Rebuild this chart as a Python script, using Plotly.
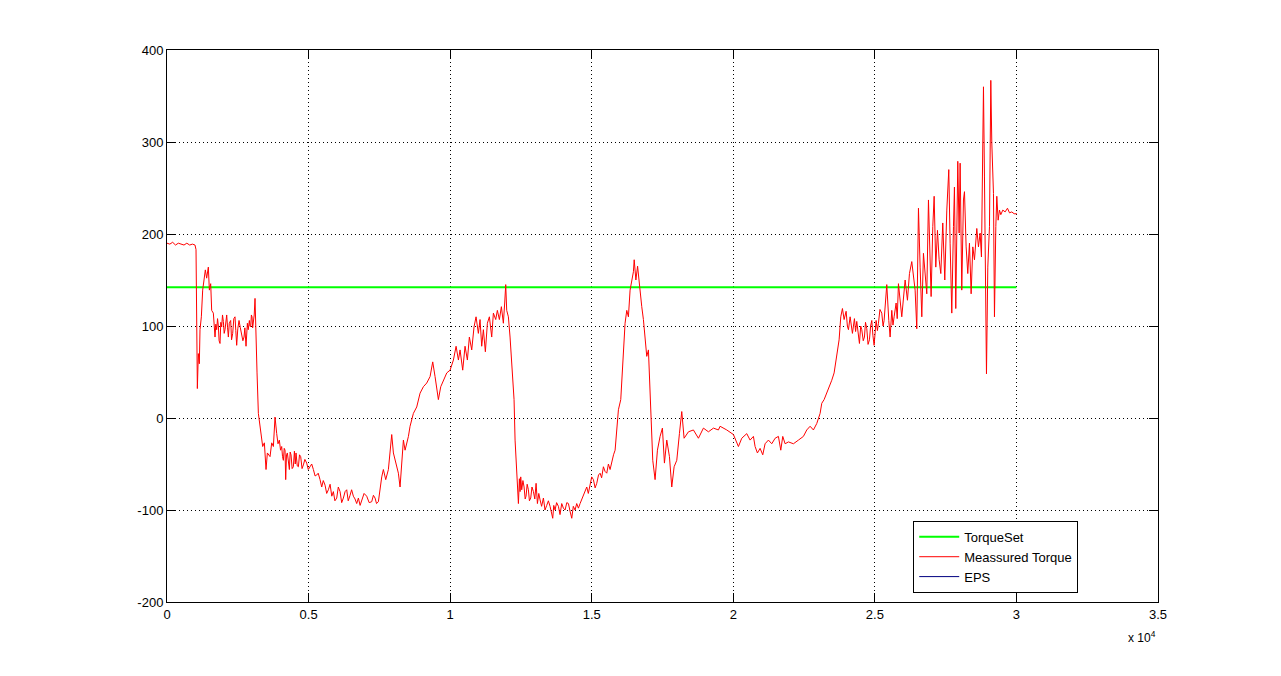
import plotly.graph_objects as go

# TorqueSet reference level
set_x = [0, 30000]
set_y = [142, 142]

start_x = [0, 100, 200, 300, 400, 500, 600, 700, 800, 900, 989, 1025,
           1048, 1072, 1107, 1142, 1166, 1213, 1260, 1307, 1354, 1401, 1460, 1496,
           1543, 1578, 1637, 1696, 1725, 1755, 1785, 1814, 1840, 1873, 1900, 1931,
           1960, 1990, 2020, 2049, 2080, 2108, 2140, 2167, 2200, 2249, 2280, 2320,
           2360, 2402, 2430, 2461, 2500, 2544, 2590, 2638, 2680, 2720, 2750, 2791,
           2815, 2838, 2870, 2909, 2930, 2956, 2980, 3003, 3025, 3050, 3080, 3109,
           3144, 3180, 3227]
start_y = [190, 189, 191, 188, 190, 189, 188, 190, 188, 189, 188, 183,
           88, 32, 70, 59, 96, 110, 139, 150, 161, 152, 164, 139,
           146, 117, 114, 88, 102, 96, 108, 100, 84, 81, 104, 99,
           112, 105, 92, 96, 110, 112, 98, 88, 103, 106, 85, 92,
           108, 110, 95, 79, 97, 106, 98, 92, 84, 88, 98, 78,
           95, 103, 96, 106, 100, 99, 112, 110, 98, 103, 112, 130,
           70, 49, 5]

dip1_x = [3285, 3380, 3439, 3497, 3545, 3639, 3698, 3757, 3815, 3845,
          3874, 3920, 3968, 4010, 4051, 4080, 4110, 4140, 4169, 4192,
          4220, 4251, 4290, 4322, 4350, 4380, 4420, 4463, 4500, 4530,
          4557, 4600, 4640, 4680, 4722, 4770, 4816, 4870, 4934, 4990,
          5052, 5110, 5170, 5230, 5287, 5340, 5405, 5464, 5520, 5582,
          5640, 5700, 5760, 5820, 5876, 5930, 5994, 6050, 6112, 6170,
          6229, 6290, 6347, 6400, 6465, 6520, 6582, 6640, 6700, 6759,
          6820, 6877, 6960, 7053, 7140, 7230, 7290, 7348, 7400, 7466]
dip1_y = [-9, -31, -27, -56, -38, -42, -27, -31, 1, -12,
          -17, -28, -24, -35, -31, -42, -46, -33, -35, -67,
          -40, -38, -50, -56, -37, -40, -55, -53, -36, -50,
          -38, -52, -53, -40, -42, -55, -51, -45, -49, -56,
          -53, -50, -56, -63, -62, -60, -67, -75, -68, -73,
          -82, -78, -72, -85, -80, -90, -87, -75, -80, -92,
          -87, -80, -78, -90, -84, -78, -85, -88, -93, -87,
          -95, -89, -82, -85, -92, -91, -84, -87, -93, -91]

rise1_x = [7525, 7584, 7642, 7725, 7819, 7878, 7937, 7996, 8090, 8172,
           8231, 8290, 8349, 8408, 8526, 8584, 8702, 8820, 8938, 9055,
           9173, 9291, 9385, 9467, 9585, 9668, 9762, 9880, 9998, 10115,
           10210, 10292, 10350, 10444, 10526, 10609, 10679, 10762, 10844, 10915,
           10997, 11056, 11115, 11174, 11244, 11315, 11386, 11468, 11527, 11610,
           11668, 11739, 11810, 11880, 11927, 11963, 11998, 12057, 12116, 12175,
           12234]
rise1_y = [-75, -64, -56, -67, -56, -38, -18, -38, -49, -60,
           -75, -46, -24, -35, -20, -9, 5, 12, 27, 34,
           38, 45, 61, 45, 20, 34, 41, 49, 52, 63,
           78, 63, 74, 52, 78, 63, 88, 74, 99, 110,
           92, 107, 78, 96, 72, 103, 110, 88, 114, 107,
           117, 107, 121, 103, 125, 145, 117, 110, 88, 63,
           34]

dip2_x = [12257, 12293, 12352, 12411, 12446, 12470, 12493, 12528, 12570, 12611,
          12650, 12681, 12720, 12764, 12800, 12846, 12890, 12941, 12990, 13035,
          13082, 13130, 13176, 13230, 13294, 13350, 13411, 13470, 13529, 13580,
          13623, 13660, 13706, 13760, 13824, 13880, 13941, 14000, 14059, 14120,
          14177, 14240, 14295, 14350, 14412, 14470, 14530, 14589, 14683, 14766,
          14825, 14880, 14942, 15000, 15060, 15120, 15178, 15240, 15296, 15350,
          15413, 15470, 15531, 15590, 15649, 15708, 15770, 15826, 15884, 15943,
          16026]
dip2_y = [20, -24, -53, -93, -66, -80, -64, -78, -68, -75,
          -88, -85, -72, -78, -90, -87, -75, -80, -88, -71,
          -93, -82, -89, -96, -87, -100, -95, -90, -96, -104,
          -109, -95, -100, -92, -96, -105, -93, -98, -100, -92,
          -93, -102, -109, -96, -100, -93, -98, -93, -85, -78,
          -75, -82, -71, -64, -67, -76, -71, -62, -60, -65,
          -53, -58, -60, -50, -56, -46, -40, -35, -9, 9,
          20]

peak2_x = [16060, 16119, 16178, 16238, 16296, 16355, 16414, 16473, 16500, 16560,
           16620, 16680, 16708, 16767, 16826, 16885, 16944, 17003, 17062]
peak2_y = [41, 74, 103, 117, 110, 139, 150, 159, 172, 150,
           165, 145, 139, 121, 107, 88, 67, 74, 23]

mid_x = [17085, 17156, 17238, 17321, 17415, 17497, 17568, 17651, 17745, 17827,
         17910, 18004, 18098, 18180, 18263, 18416, 18592, 18769, 18945, 19122,
         19299, 19475, 19534, 19769, 20005, 20122, 20181, 20299, 20476, 20593,
         20711, 20770, 20852, 20947, 21041, 21123, 21241, 21359, 21477, 21594,
         21677, 21747, 21830, 21948, 22124, 22301, 22477, 22595, 22713, 22830,
         22948, 23066]
mid_y = [20, -46, -67, -35, -20, -11, -49, -24, -42, -75,
         -53, -46, -17, 7, -22, -15, -13, -22, -11, -15,
         -11, -13, -9, -13, -18, -26, -31, -22, -17, -24,
         -20, -31, -38, -33, -40, -28, -24, -28, -22, -20,
         -35, -20, -28, -26, -28, -24, -20, -13, -9, -13,
         -6, 5]

rise3_x = [23125, 23208, 23302, 23396, 23478, 23561, 23655, 23737, 23796, 23855,
           23914, 23985, 24030, 24067, 24126, 24170, 24208, 24279, 24320, 24361,
           24410, 24456, 24500, 24538, 24590, 24632, 24670, 24715, 24760, 24809,
           24850, 24891, 24930, 24974, 25044, 25090, 25127, 25180, 25244, 25290,
           25327, 25421, 25492, 25539, 25598, 25640, 25680, 25751, 25790, 25833]
rise3_y = [16, 20, 27, 34, 41, 49, 67, 85, 110, 119,
           107, 116, 100, 96, 110, 98, 92, 108, 94, 105,
           88, 81, 100, 96, 84, 88, 104, 97, 80, 85,
           100, 106, 90, 79, 106, 95, 103, 118, 114, 100,
           106, 145, 106, 88, 117, 101, 110, 125, 108, 146]

osc_x = [25951, 26010, 26069, 26151, 26222, 26304, 26363, 26422, 26481, 26540,
         26599, 26658, 26716, 26775, 26834, 26893, 26952, 26987, 27046, 27094,
         27152, 27211, 27270, 27329, 27399, 27470, 27541, 27611, 27658, 27717,
         27776, 27811, 27858, 27929, 27976, 28012, 28070, 28129, 28165, 28224,
         28282, 28341, 28400, 28459, 28518, 28600, 28659, 28718, 28765, 28800,
         28836, 28871, 28918, 28942, 28989, 29048, 29095, 29130, 29189, 29224,
         29272, 29307, 29354, 29401, 29448, 29519, 29601, 29684, 29755, 29837,
         29919, 30013]
osc_y = [110, 135, 150, 128, 157, 170, 154, 139, 97, 228,
         164, 110, 179, 154, 135, 237, 172, 132, 208, 241,
         164, 204, 172, 157, 212, 150, 226, 270, 190, 114,
         208, 251, 119, 279, 201, 277, 139, 237, 246, 186,
         157, 190, 135, 186, 172, 206, 186, 201, 175, 280,
         360, 262, 114, 48, 164, 208, 367, 299, 244, 110,
         208, 241, 215, 226, 221, 226, 224, 228, 223, 224,
         222, 222]

torque_x = start_x + dip1_x + rise1_x + dip2_x + peak2_x + mid_x + rise3_x + osc_x
torque_y = start_y + dip1_y + rise1_y + dip2_y + peak2_y + mid_y + rise3_y + osc_y

x_ticks = [0, 5000, 10000, 15000, 20000, 25000, 30000, 35000]
x_tick_labels = ["0", "0.5", "1", "1.5", "2", "2.5", "3", "3.5"]
y_ticks = [-200, -100, 0, 100, 200, 300, 400]
y_tick_labels = ["-200", "-100", "0", "100", "200", "300", "400"]

font = dict(family="Liberation Sans, Arial, sans-serif", size=13, color="black")

fig = go.Figure()
fig.add_trace(go.Scatter(x=set_x, y=set_y, mode="lines", name="TorqueSet",
                         line=dict(color="#00ff00", width=2)))
fig.add_trace(go.Scatter(x=torque_x, y=torque_y, mode="lines", name="Meassured Torque",
                         line=dict(color="#ff0000", width=1)))
fig.add_trace(go.Scatter(x=[None], y=[None], mode="lines", name="EPS",
                         line=dict(color="#000080", width=1)))

axis_style = dict(
    showline=True, linecolor="black", linewidth=1, mirror="allticks",
    ticks="inside", ticklen=9, tickcolor="black",
    showgrid=True, gridcolor="black", gridwidth=1, griddash="1px,3px",
    zeroline=False, tickfont=font,
)

fig.update_layout(
    width=1281, height=676,
    margin=dict(l=159, r=131, t=42, b=82),
    paper_bgcolor="white", plot_bgcolor="white",
    font=font,
    xaxis=dict(range=[0, 35000], tickvals=x_ticks, ticktext=x_tick_labels, **axis_style),
    yaxis=dict(range=[-200, 400], tickvals=y_ticks, ticktext=y_tick_labels, **axis_style),
    legend=dict(x=0.753, y=0.147, xanchor="left", yanchor="top",
                bgcolor="white", bordercolor="black", borderwidth=1,
                font=font, tracegroupgap=0, itemwidth=40),
    annotations=[dict(text="x 10<sup>4</sup>", xref="paper", yref="paper",
                      x=1.0, y=-0.063, xanchor="right", yanchor="middle",
                      showarrow=False, font=dict(family=font["family"], size=12))],
)

fig.write_html("out.html")
